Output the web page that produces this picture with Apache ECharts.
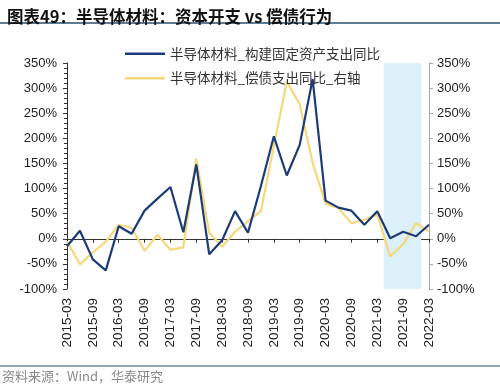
<!DOCTYPE html>
<html>
<head>
<meta charset="utf-8">
<script src="https://cdn.jsdelivr.net/npm/echarts@6/dist/echarts.min.js"></script>
<style>
html,body{margin:0;padding:0;background:#fff;}
#c{width:500px;height:391px;}
</style>
</head>
<body>
<div id="c"></div>
<script>
const categories = ['2015-03','2015-06','2015-09','2015-12','2016-03','2016-06','2016-09','2016-12',
  '2017-03','2017-06','2017-09','2017-12','2018-03','2018-06','2018-09','2018-12',
  '2019-03','2019-06','2019-09','2019-12','2020-03','2020-06','2020-09','2020-12',
  '2021-03','2021-06','2021-09','2021-12','2022-03'];
const capexYoY = [-15, 16, -41, -63, 25, 10, 56, 80, 103, 13, 148, -31, -3, 55, 12, 105, 204, 126, 187, 318, 76, 62, 56, 28, 55, 1, 14, 5, 28];
const debtYoY = [-5, -51, -27, -6, 28, 22, -24, 8, -22, -17, 160, 12, -16, 14, 35, 55, 185, 313, 268, 151, 70, 61, 31, 38, 48, -35, -11, 31, 15];
const seriesNames = ['半导体材料_构建固定资产支出同比', '半导体材料_偿债支出同比_右轴'];
const shadeFrom = 24.5, shadeTo = 27.4; // in quarter index units
const yMin = -100, yMax = 350, yStep = 50;
const titleText = '图表49：半导体材料：资本开支 vs 偿债行为';
const sourceText = '资料来源：Wind，华泰研究';

const chart = echarts.init(document.getElementById('c'), null, {renderer:'canvas'});
const lab = {fontFamily:'Liberation Sans, Arial', fontSize:13, color:'#222'};
chart.setOption({
  animation:false,
  backgroundColor:'#fff',
  title:{text:titleText, left:2, top:3, textStyle:{fontFamily:'Noto Sans CJK SC', fontSize:16.5, fontWeight:'bold', color:'#111'}},
  graphic:[
    {type:'line', shape:{x1:0,y1:23,x2:500,y2:23}, style:{stroke:'#5e7c94', lineWidth:2}},
    {type:'line', shape:{x1:0,y1:366,x2:500,y2:366}, style:{stroke:'#6f8799', lineWidth:1.5}},
    {type:'text', left:2, top:370, style:{text:sourceText, fontFamily:'Noto Sans CJK SC', fontSize:13, fill:'#8a8a8a'}}
  ],
  legend:{
    data:seriesNames, orient:'vertical', left:120, top:42, itemGap:11,
    icon:'rect', itemWidth:40, itemHeight:2.5,
    textStyle:{fontFamily:'Noto Sans CJK SC', fontSize:13.5, color:'#333'}
  },
  grid:{left:67, right:71, top:63, bottom:102, containLabel:false},
  xAxis:[
    {type:'category', data:categories, boundaryGap:false, position:'bottom',
     axisLine:{show:false, onZero:false}, axisTick:{show:false},
     axisLabel:Object.assign({rotate:90, interval:1, margin:9}, lab, {fontSize:13.5}), splitLine:{show:false}},
    {type:'category', data:categories, boundaryGap:false, position:'bottom',
     axisLine:{show:true, onZero:true, lineStyle:{color:'#333', width:1}},
     axisTick:{show:true, interval:1, length:4, inside:false, lineStyle:{color:'#333'}},
     axisLabel:{show:false}, splitLine:{show:false}},
    {type:'value', min:0, max:categories.length-1, show:false, axisLine:{onZero:false}}
  ],
  yAxis:[
    {type:'value', min:yMin, max:yMax, interval:yStep, position:'left',
     axisLine:{show:true, onZero:false, lineStyle:{color:'#333'}},
     axisTick:{show:true, length:4, lineStyle:{color:'#333'}},
     minorTick:{show:true, splitNumber:5, length:3, lineStyle:{color:'#333'}},
     splitLine:{show:false},
     axisLabel:Object.assign({formatter:'{value}%', margin:10}, lab)},
    {type:'value', min:yMin, max:yMax, interval:yStep, position:'right',
     axisLine:{show:true, onZero:false, lineStyle:{color:'#a6a6a6'}},
     axisTick:{show:true, length:4, lineStyle:{color:'#a6a6a6'}},
     splitLine:{show:false},
     axisLabel:Object.assign({formatter:'{value}%', margin:8}, lab)}
  ],
  series:[
    {name:'shade', type:'line', xAxisIndex:2, yAxisIndex:0, data:[], z:0, silent:true,
     markArea:{silent:true, itemStyle:{color:'#dcf0fa'}, data:[[{xAxis:shadeFrom},{xAxis:shadeTo}]]}},
    {name:seriesNames[0], type:'line', xAxisIndex:0, yAxisIndex:0, data:capexYoY, symbol:'none', z:3,
     lineStyle:{color:'#1d3b78', width:2.2}, itemStyle:{color:'#1d3b78'}},
    {name:seriesNames[1], type:'line', xAxisIndex:0, yAxisIndex:1, data:debtYoY, symbol:'none', z:2,
     lineStyle:{color:'#f5d87c', width:2.2}, itemStyle:{color:'#f5d87c'}}
  ]
});
</script>
</body>
</html>
